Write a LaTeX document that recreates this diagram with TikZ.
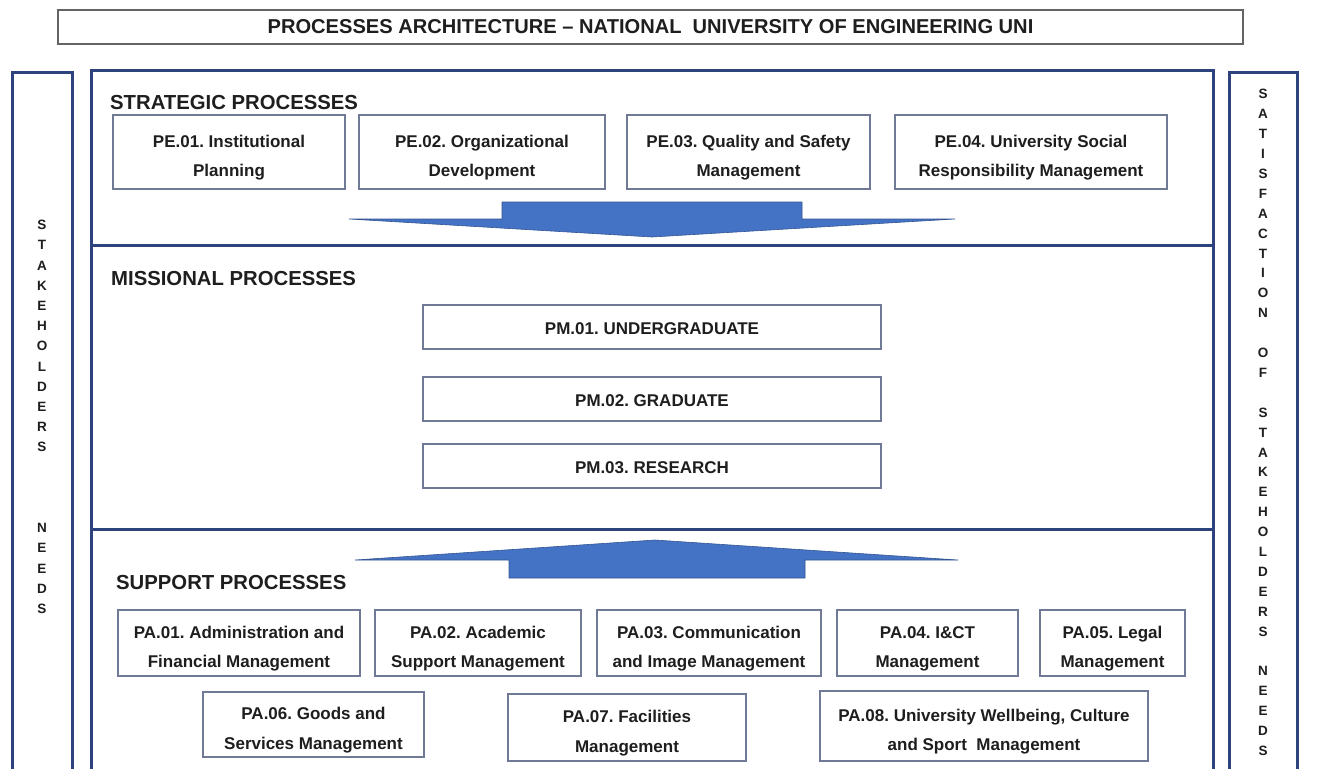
\documentclass[tikz,border=0pt]{standalone}
\usepackage{fontspec}
\setmainfont{Liberation Sans}
\usetikzlibrary{positioning}
\definecolor{navy}{RGB}{46,66,126}
\definecolor{boxline}{RGB}{112,122,150}
\definecolor{titleline}{RGB}{100,100,100}
\definecolor{arrowblue}{RGB}{68,114,196}
\definecolor{txt}{RGB}{30,30,30}
\newcommand{\titlefont}{\fontsize{20.1}{22}\selectfont\bfseries}
\newcommand{\headfont}{\fontsize{20.3}{22}\selectfont\bfseries}
\newcommand{\boxfont}{\fontsize{17}{29.5}\selectfont\bfseries}
\newcommand{\sidefont}{\fontsize{13.5}{20.2}\selectfont\bfseries}
\newcommand{\lift}{\rule{0pt}{23.5pt}}
\frenchspacing

\begin{document}
\begin{tikzpicture}[x=1pt,y=-1pt,
  procbox/.style={draw=boxline,line width=1.4pt,fill=white,align=center,inner sep=0pt,text=txt,font=\boxfont},
  mbox/.style={procbox,execute at begin node={\rule{0pt}{15.5pt}}},
  header/.style={anchor=west,inner sep=0pt,text=txt,font=\headfont},
  sideletters/.style={align=center,inner sep=0pt,text=txt,font=\sidefont},
  frame/.style={draw=navy,line width=3pt},
  bigarrow/.style={fill=arrowblue,draw=arrowblue!75!black,line width=0.6pt}]
\useasboundingbox (0,0) rectangle (1320,769);
\fill[white] (0,0) rectangle (1320,769);

% title
\node[draw=titleline,line width=1.8pt,minimum width=1185,minimum height=34,inner sep=0pt,
      font=\titlefont,text=txt] (title) at (650.5,27)
      {PROCESSES ARCHITECTURE – NATIONAL\ \ UNIVERSITY OF ENGINEERING UNI};

% frames
\draw[frame] (12,769) -- (12,72) -- (72,72) -- (72,769);
\draw[frame] (1229,769) -- (1229,72) -- (1297,72) -- (1297,769);
\draw[frame] (91,769) -- (91,70) -- (1213,70) -- (1213,769);
\draw[frame] (91,245) -- (1213,245);
\draw[frame] (91,529) -- (1213,529);

% side texts
\node[sideletters] (needs) at (42,417)
  {S\\T\\A\\K\\E\\H\\O\\L\\D\\E\\R\\S\\[60.6pt]N\\E\\E\\D\\S};
\node[sideletters,font=\fontsize{13.5}{19.9}\selectfont\bfseries] (satisf) at (1263,422.5)
  {S\\A\\T\\I\\S\\F\\A\\C\\T\\I\\O\\N\\[19.9pt]O\\F\\[19.9pt]S\\T\\A\\K\\E\\H\\O\\L\\D\\E\\R\\S\\[19.9pt]N\\E\\E\\D\\S};

% strategic
\node[header] (strat) at (110,103) {STRATEGIC PROCESSES};
\node[procbox,minimum width=232,minimum height=74] (pe1) at (229,152) {\lift PE.01. Institutional\\Planning};
\node[procbox,minimum width=246,minimum height=74] (pe2) at (482,152) {\lift PE.02. Organizational\\Development};
\node[procbox,minimum width=243,minimum height=74] (pe3) at (748.5,152) {\lift PE.03. Quality and Safety\\Management};
\node[procbox,minimum width=272,minimum height=74] (pe4) at (1031,152) {\lift PE.04. University Social\\Responsibility Management};

\filldraw[bigarrow] (349,219) -- (502,219) -- (502,202) -- (802,202) -- (802,219)
  -- (955,219) -- (652,237) -- cycle;

% missional
\node[header] (miss) at (111,279) {MISSIONAL PROCESSES};
\node[mbox,minimum width=458,minimum height=44] (pm1) at (652,327) {PM.01. UNDERGRADUATE};
\node[mbox,minimum width=458,minimum height=44] (pm2) at (652,399) {PM.02. GRADUATE};
\node[mbox,minimum width=458,minimum height=44] (pm3) at (652,466) {PM.03. RESEARCH};

% support
\filldraw[bigarrow] (355,560) -- (655,540) -- (958,560) -- (805,560) -- (805,578)
  -- (509,578) -- (509,560) -- cycle;

\node[header] (supp) at (116,583) {SUPPORT PROCESSES};
\node[procbox,minimum width=242,minimum height=66] (pa1) at (239,643) {\lift PA.01. Administration and\\Financial Management};
\node[procbox,minimum width=206,minimum height=66] (pa2) at (478,643) {\lift PA.02. Academic\\Support Management};
\node[procbox,minimum width=224,minimum height=66] (pa3) at (709,643) {\lift PA.03. Communication\\and Image Management};
\node[procbox,minimum width=181,minimum height=66] (pa4) at (927.5,643) {\lift PA.04. I\&CT\\Management};
\node[procbox,minimum width=145,minimum height=66] (pa5) at (1112.5,643) {\lift PA.05. Legal\\Management};
\node[procbox,minimum width=221,minimum height=65] (pa6) at (313.5,724.5) {\lift PA.06. Goods and\\Services Management};
\node[procbox,minimum width=238,minimum height=67] (pa7) at (627,727.5) {\lift PA.07. Facilities\\Management};
\node[procbox,minimum width=328,minimum height=70] (pa8) at (984,726) {\lift PA.08. University Wellbeing, Culture\\and Sport\ \ Management};
\end{tikzpicture}
\end{document}
